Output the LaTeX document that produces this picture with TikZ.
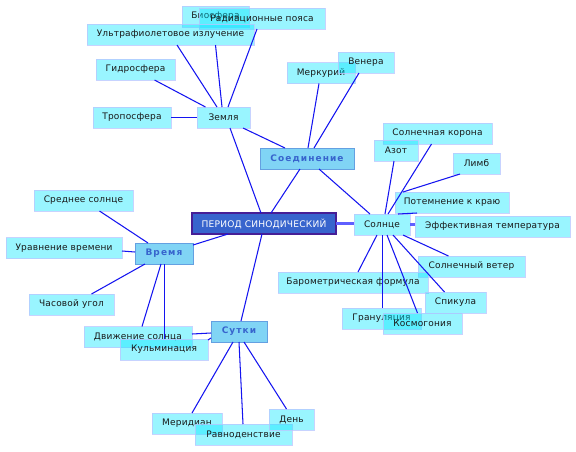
\documentclass[tikz,border=0pt]{standalone}
\usepackage{fontspec}
\setmainfont{DejaVu Sans}
\newfontfamily\hubfont[LetterSpace=12]{DejaVu Sans}
\newfontfamily\leaffont[LetterSpace=2]{DejaVu Sans}
\usetikzlibrary{calc}
\definecolor{leaffill}{RGB}{0,230,255}
\definecolor{leafline}{RGB}{185,200,255}
\definecolor{hubfill}{RGB}{128,212,245}
\definecolor{hubline}{RGB}{100,160,225}
\definecolor{hubtext}{RGB}{55,100,205}
\definecolor{perfill}{RGB}{55,100,205}
\definecolor{perline}{RGB}{70,30,150}
\definecolor{linkcol}{RGB}{20,20,240}
\definecolor{thickcol}{RGB}{95,95,255}
\tikzset{
  box/.style={rectangle, inner sep=0pt, outer sep=0pt, minimum height=21pt, font=\leaffont\fontsize{9}{10}\selectfont},
  leaf/.style={box, fill=leaffill, fill opacity=0.4, text opacity=1, draw=leafline, draw opacity=0.8, line width=1pt, text=black!90},
  hub/.style={box, fill=hubfill, draw=hubline, line width=1pt, text=hubtext, font=\hubfont\bfseries\fontsize{9}{10}\selectfont},
  per/.style={box, fill=perfill, draw=perline, line width=1.2pt, text=white, font=\leaffont\fontsize{9.1}{10}\selectfont},
  link/.style={draw=linkcol, line width=1.05pt},
  thicklink/.style={draw=thickcol, line width=2.6pt}
}
\begin{document}
\begin{tikzpicture}[x=1pt,y=-1pt]
\fill[white] (0,0) rectangle (576,451);
\path[use as bounding box] (0,0) rectangle (576,451);
% Earth group
\node[leaf, minimum width=67pt] (bio) at (215.5,16.5) {Биосфера};
\node[leaf, minimum width=126pt] (rad) at (262,18.5) {Радиационные пояса};
\node[leaf, minimum width=167pt] (ultra) at (170.5,34.5) {Ультрафиолетовое излучение};
\node[leaf, minimum width=79pt] (hydro) at (135.5,69.5) {Гидросфера};
\node[leaf, minimum width=78pt] (tropo) at (132,117.5) {Тропосфера};
\node[leaf, minimum width=53pt] (zem) at (223.5,117.5) {Земля};
% Connection group
\node[leaf, minimum width=68pt] (merc) at (321,73) {Меркурий};
\node[leaf, minimum width=56pt] (ven) at (366,62.5) {Венера};
\node[hub, minimum width=94pt] (soed) at (307,158.5) {Соединение};
\node[per, minimum width=144pt] (per) at (264,223.5) {ПЕРИОД СИНОДИЧЕСКИЙ};
% Sun group
\node[leaf, minimum width=109pt] (corona) at (437.5,133.5) {Солнечная корона};
\node[leaf, minimum width=44pt] (azot) at (396,150.5) {Азот};
\node[leaf, minimum width=47pt] (limb) at (476.5,163.5) {Лимб};
\node[leaf, minimum width=114pt] (potem) at (452,202.5) {Потемнение к краю};
\node[leaf, minimum width=56pt] (sun) at (382,224.5) {Солнце};
\node[leaf, minimum width=155pt] (eff) at (492.5,226.5) {Эффективная температура};
\node[leaf, minimum width=107pt] (wind) at (471.5,266.5) {Солнечный ветер};
\node[leaf, minimum width=150pt] (baro) at (353,282.5) {Барометрическая формула};
\node[leaf, minimum width=61pt] (spik) at (455.5,302.5) {Спикула};
\node[leaf, minimum width=79pt] (gran) at (381.5,318.5) {Грануляция};
\node[leaf, minimum width=79pt] (kosm) at (422.5,323.5) {Космогония};
% Time group
\node[leaf, minimum width=99pt] (sred) at (83.5,200.5) {Среднее солнце};
\node[leaf, minimum width=116pt] (urav) at (64,248) {Уравнение времени};
\node[hub, minimum width=58pt] (vrem) at (164,253.5) {Время};
\node[leaf, minimum width=85pt] (chas) at (71.5,304.5) {Часовой угол};
\node[leaf, minimum width=108pt] (dvizh) at (138,337) {Движение солнца};
\node[leaf, minimum width=88pt] (kulm) at (164,349.5) {Кульминация};
% Day group
\node[hub, minimum width=56pt] (sut) at (239,331.5) {Сутки};
\node[leaf, minimum width=70pt] (merid) at (187,423.5) {Меридиан};
\node[leaf, minimum width=97pt] (ravn) at (243.5,434.5) {Равноденствие};
\node[leaf, minimum width=45pt] (den) at (291.5,419.5) {День};
% connectors: Earth
\draw[link] (tropo.east) -- (zem.west);
\draw[link] ([xshift=19pt]hydro.south) -- ([xshift=-18pt]zem.north);
\draw[link] ([xshift=6.5pt]ultra.south) -- ([xshift=-6.5pt]zem.north);
\draw[link] (bio.south |- ultra.south) -- ([xshift=-1.5pt]zem.north);
\draw[link] ([xshift=-5pt]rad.south) -- ([xshift=4.5pt]zem.north);
\draw[link] ([xshift=6.5pt]zem.south) -- ([xshift=-3pt]per.north);
\draw[link] ([xshift=-7pt]zem.south east) -- ([xshift=25pt]soed.north west);
% Connection
\draw[link] ([xshift=-2pt]merc.south) -- ([xshift=1pt]soed.north);
\draw[link] ([xshift=-7pt]ven.south) -- ([xshift=7pt]soed.north);
\draw[link] ([xshift=-7pt]soed.south) -- ([xshift=7pt]per.north);
\draw[link] ([xshift=12pt]soed.south) -- ([xshift=-12pt]sun.north);
% thick
\draw[thicklink] (per.east) -- (per.east -| sun.west);
\draw[thicklink] (sun.east) -- (sun.east -| eff.west);
% Sun
\draw[link] ([xshift=-2pt]azot.south) -- ([xshift=3pt]sun.north);
\draw[link] ([xshift=-6pt]corona.south) -- ([xshift=6pt]sun.north);
\draw[link] ([xshift=7pt]limb.south west) -- ([xshift=-49pt]potem.north);
\draw[link] ([xshift=22pt]potem.south west) -- ([xshift=-12pt]sun.north east);
\draw[link] ([xshift=-5pt]sun.south) -- ([xshift=5pt]baro.north);
\draw[link] ([xshift=0.5pt]sun.south) -- ([xshift=0.5pt]sun.south |- gran.north);
\draw[link] ([xshift=5pt]sun.south) -- ([xshift=-5pt]kosm.north);
\draw[link] ([xshift=11pt]sun.south) -- ([xshift=-11pt]spik.north);
\draw[link] ([xshift=21pt]sun.south) -- ([xshift=-23pt]wind.north);
% Time
\draw[link] ([xshift=-36pt]per.south) -- ([yshift=8.5pt]vrem.east);
\draw[link] ([xshift=16pt]sred.south) -- ([xshift=13pt]vrem.north west);
\draw[link] ([yshift=-3pt]urav.east) -- ([yshift=1.5pt]vrem.west);
\draw[link] ([xshift=20pt]chas.north) -- ([xshift=10pt]vrem.south west);
\draw[link] ([xshift=4pt]dvizh.north) -- ([xshift=-3pt]vrem.south);
\draw[link] ([xshift=0.5pt]vrem.south) -- ([xshift=0.5pt]kulm.north);
% Day
\draw[link] ([xshift=-2pt]per.south) -- ([xshift=2pt]sut.north);
\draw[link] ([yshift=3pt]dvizh.east) -- ([yshift=-1.5pt]sut.west);
\draw[link] ([yshift=9.5pt]kulm.east) -- ([yshift=4pt]sut.south west);
\draw[link] ([xshift=5pt]merid.north) -- ([xshift=-6pt]sut.south);
\draw[link] ([xshift=-0.5pt]ravn.north) -- (sut.south);
\draw[link] ([xshift=-5pt]den.north) -- ([xshift=5pt]sut.south);
\end{tikzpicture}
\end{document}
